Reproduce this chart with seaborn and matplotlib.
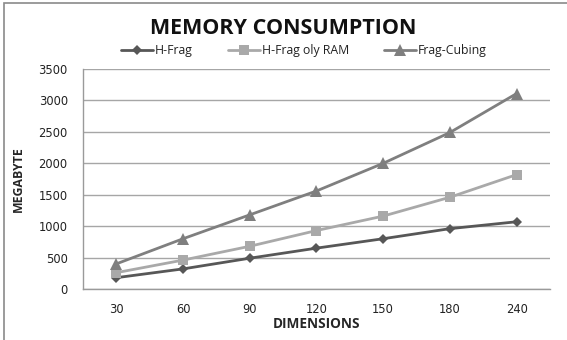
import matplotlib
matplotlib.use("Agg")
import matplotlib.pyplot as plt
import seaborn as sns
import pandas as pd

dimensions = ["30", "60", "90", "120", "150", "180", "240"]
h_frag = [180, 320, 490, 650, 800, 960, 1070]
h_frag_ram = [260, 460, 680, 930, 1160, 1460, 1820]
frag_cubing = [400, 800, 1180, 1560, 2000, 2490, 3110]

series_names = ["H-Frag", "H-Frag oly RAM", "Frag-Cubing"]
series_values = [h_frag, h_frag_ram, frag_cubing]
y_ticks = [0, 500, 1000, 1500, 2000, 2500, 3000, 3500]

df = pd.DataFrame(
    [(d, name, v) for name, vals in zip(series_names, series_values)
     for d, v in zip(dimensions, vals)],
    columns=["dimension", "series", "megabyte"],
)

sns.set_theme(style="white")
plt.rcParams["font.family"] = ["Open Sans", "DejaVu Sans"]

fig = plt.figure(figsize=(5.67, 3.40), dpi=100)
ax = fig.add_axes([0.1464, 0.150, 0.8236, 0.647])

palette = {"H-Frag": "#575757", "H-Frag oly RAM": "#a9a9a9", "Frag-Cubing": "#7f7f7f"}
markers = {"H-Frag": "D", "H-Frag oly RAM": "s", "Frag-Cubing": "^"}
sizes = {"H-Frag": 5.5, "H-Frag oly RAM": 7, "Frag-Cubing": 8.5}

for name in series_names:
    sub = df[df["series"] == name]
    sns.lineplot(data=sub, x="dimension", y="megabyte", ax=ax, sort=False,
                 color=palette[name], marker=markers[name],
                 markersize=sizes[name], markeredgewidth=0,
                 linewidth=2.0, label=name)

ax.set_xlim(-0.5, len(dimensions) - 0.5)
ax.set_ylim(0, 3500)
ax.set_yticks(y_ticks)
ax.yaxis.grid(True, color="#a6a6a6", linewidth=1.0)
ax.set_axisbelow(True)
for side in ["top", "right"]:
    ax.spines[side].set_visible(False)
for side in ["left", "bottom"]:
    ax.spines[side].set_color("#9a9a9a")
    ax.spines[side].set_linewidth(1.0)
ax.tick_params(axis="both", length=0, colors="#222222")
ax.tick_params(axis="x", pad=10)
ax.tick_params(axis="y", pad=11)
for lbl in ax.get_xticklabels() + ax.get_yticklabels():
    lbl.set_fontfamily("DejaVu Sans")
    lbl.set_fontsize(8.3)

ax.set_xlabel("DIMENSIONS", fontsize=9.8, fontweight="bold", labelpad=1)
ax.set_ylabel("MEGABYTE", fontsize=8.8, fontweight="bold", labelpad=10)

fig.suptitle("MEMORY CONSUMPTION", x=0.5, y=0.948, fontsize=15.5,
             fontweight="bold", color="#111111")

handles, labels = ax.get_legend_handles_labels()
ax.legend_.remove()
fig.legend(handles, labels, loc="center", bbox_to_anchor=(0.536, 0.852),
           ncol=3, frameon=False, fontsize=8.8, handlelength=2.6,
           columnspacing=2.9, handletextpad=0.15, labelcolor="#222222")

border = plt.Rectangle((0.007, -0.05), 2.0, 1.04, transform=fig.transFigure,
                       fill=False, edgecolor="#8a8a8a", linewidth=1.2)
fig.add_artist(border)

fig.savefig("out.png", dpi=100)
